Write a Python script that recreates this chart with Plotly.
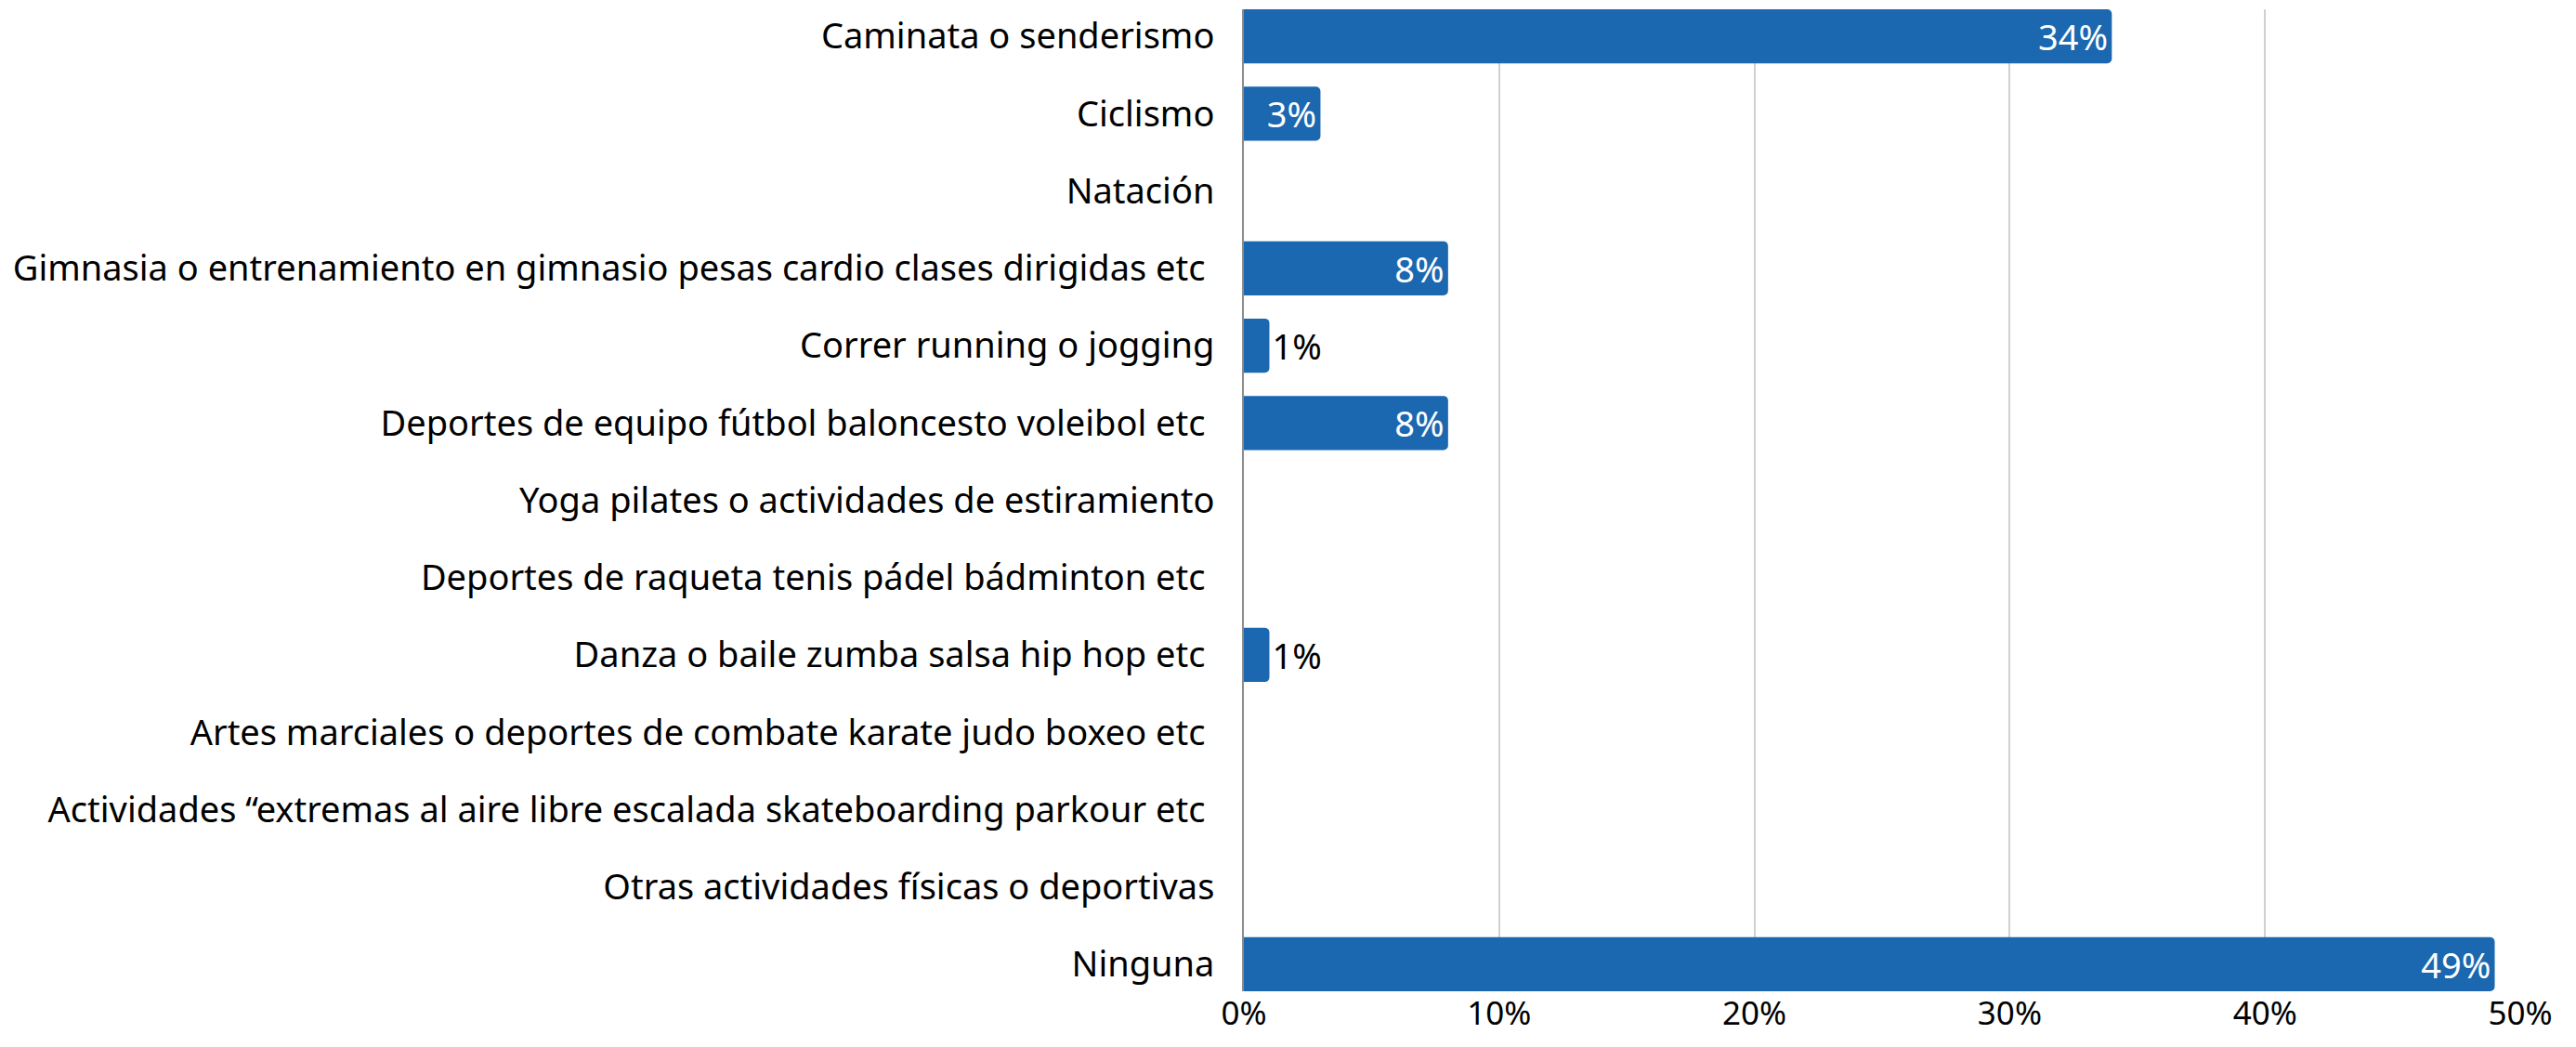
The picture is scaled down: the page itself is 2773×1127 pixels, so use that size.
import plotly.graph_objects as go

categories = [
    "Caminata o senderismo",
    "Ciclismo",
    "Natación",
    "Gimnasia o entrenamiento en gimnasio pesas cardio clases dirigidas etc ",
    "Correr running o jogging",
    "Deportes de equipo fútbol baloncesto voleibol etc ",
    "Yoga pilates o actividades de estiramiento",
    "Deportes de raqueta tenis pádel bádminton etc ",
    "Danza o baile zumba salsa hip hop etc ",
    "Artes marciales o deportes de combate karate judo boxeo etc ",
    "Actividades “extremas al aire libre escalada skateboarding parkour etc ",
    "Otras actividades físicas o deportivas",
    "Ninguna",
]
values = [0.34, 0.03, 0.0, 0.08, 0.01, 0.08, 0.0, 0.0, 0.01, 0.0, 0.0, 0.0, 0.49]
tick_vals = [0, 0.1, 0.2, 0.3, 0.4, 0.5]
tick_text = ["0%", "10%", "20%", "30%", "40%", "50%"]

labels = [f"{round(v*100)}%" if v > 0 else "" for v in values]
ypos = list(range(len(categories)))

FONT = "Noto Sans"
fig = go.Figure(go.Bar(
    x=values, y=ypos, orientation="h",
    marker=dict(color="#1B67B0", line=dict(width=0)),
    text=labels, textposition="auto",
    insidetextanchor="end",
    insidetextfont=dict(color="white", size=38, family=FONT),
    outsidetextfont=dict(color="black", size=38, family=FONT),
    textangle=0,
    cliponaxis=False,
    width=0.7,
))

fig.update_layout(
    width=2757, height=1111,
    margin=dict(l=1331, r=52, t=2, b=52, autoexpand=False),
    plot_bgcolor="white", paper_bgcolor="white",
    barcornerradius=5,
    font=dict(family=FONT, size=38, color="black"),
    showlegend=False,
    uniformtext=dict(minsize=38, mode="show"),
)
fig.update_xaxes(
    range=[0, 0.5], tickvals=tick_vals, ticktext=tick_text,
    showgrid=True, gridcolor="#D0D0D0", gridwidth=2,
    zeroline=False, showline=False, ticks="",
    tickfont=dict(size=35, family=FONT), automargin=False,
)
fig.update_yaxes(
    range=[12.35, -0.35], tickvals=ypos, ticktext=categories,
    showgrid=False, zeroline=False, showline=True, linecolor="#8C8C8C", linewidth=2,
    ticks="", ticklabelstandoff=22,
    tickfont=dict(size=38, family=FONT), automargin=False,
)

fig.write_html("out.html")
